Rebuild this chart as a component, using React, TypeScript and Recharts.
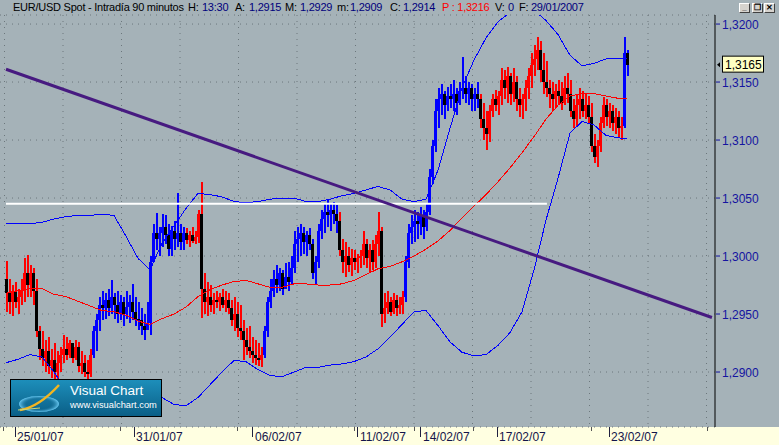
import { Bar, CartesianGrid, ComposedChart, Line, ReferenceLine, XAxis, YAxis } from "recharts"

// EUR/USD 90 min bars, values in pips above 1,2800 -> [high, low, close]
const week1 = [
  [196, 152, 168], [180, 150, 160], [175, 148, 170], [178, 155, 160], [172, 150, 165], [180, 158, 170], [198, 160, 185], [201, 165, 175], [192, 165, 185], [190, 158, 170],
  [180, 130, 135], [140, 110, 120], [135, 105, 112], [128, 100, 118], [130, 98, 105], [120, 95, 110], [125, 93, 100], [118, 94, 108], [122, 100, 115], [132, 108, 120],
  [130, 110, 115], [128, 112, 125], [124, 108, 112], [128, 110, 122], [126, 100, 105], [118, 98, 108], [115, 96, 100], [110, 94, 98], [120, 96, 115], [140, 112, 135],
]
const week2 = [
  [150, 118, 145], [165, 135, 158], [170, 145, 155], [168, 146, 162], [172, 148, 155], [179, 150, 165], [168, 146, 158], [170, 142, 150], [166, 145, 160], [165, 140, 150],
  [170, 146, 156], [166, 142, 160], [176, 145, 152], [165, 140, 146], [160, 136, 145], [155, 132, 140], [150, 128, 136], [160, 136, 142], [200, 132, 195], [228, 195, 220],
  [237, 205, 215], [225, 200, 220], [236, 208, 225], [235, 210, 218], [228, 200, 206], [226, 200, 222], [230, 205, 215], [254, 208, 220], [228, 205, 212], [225, 205, 220],
  [224, 210, 214], [222, 208, 218], [225, 211, 213], [222, 210, 216], [240, 211, 236],
]
const week3 = [
  [264, 147, 172], [185, 150, 160], [178, 148, 165], [175, 152, 158], [168, 150, 162], [170, 155, 160], [168, 153, 165], [172, 155, 158], [170, 152, 162], [168, 150, 155],
  [162, 140, 145], [165, 135, 150], [160, 130, 138], [158, 128, 135], [145, 110, 128], [138, 115, 122], [140, 112, 118], [130, 108, 115], [128, 106, 112], [125, 105, 110],
  [122, 104, 115], [140, 112, 135], [165, 130, 160], [180, 155, 170], [188, 165, 180], [192, 168, 175], [190, 170, 185], [188, 166, 172], [194, 172, 182], [195, 170, 178],
  [200, 175, 190], [222, 185, 210], [225, 195, 215], [228, 200, 220],
]
const week4 = [
  [225, 202, 212], [222, 200, 218], [224, 205, 210], [215, 180, 185], [200, 175, 195], [228, 190, 222], [240, 215, 232], [245, 220, 238], [248, 225, 235], [246, 222, 240],
  [247, 228, 236], [244, 220, 230], [238, 200, 205], [215, 185, 195], [212, 182, 200], [208, 186, 192], [206, 183, 198], [205, 188, 195], [202, 185, 198], [205, 190, 200],
  [222, 192, 210], [215, 190, 198], [210, 185, 205], [214, 188, 195], [218, 190, 210], [238, 200, 222], [225, 139, 150], [168, 142, 155], [170, 150, 160], [165, 148, 152],
  [168, 150, 162], [166, 148, 155], [165, 150, 158], [170, 150, 165],
]
const week5 = [
  [200, 160, 195], [228, 190, 220], [235, 210, 225], [240, 212, 230], [238, 215, 228], [242, 218, 235], [240, 215, 225], [245, 222, 238], [275, 235, 268], [300, 262, 295],
  [335, 290, 325], [345, 310, 335], [348, 322, 340], [342, 318, 330], [346, 325, 338], [348, 328, 335], [352, 325, 340], [345, 322, 332], [350, 330, 342], [372, 335, 345],
  [355, 332, 340], [350, 330, 345], [348, 325, 335], [345, 325, 340], [350, 328, 335], [340, 310, 318], [332, 300, 310], [325, 291, 305], [330, 298, 325], [340, 320, 335],
  [343, 325, 330], [342, 322, 338],
]
const week6 = [
  [362, 330, 352], [360, 335, 345], [363, 332, 355], [358, 330, 340], [362, 333, 350], [355, 325, 335], [345, 320, 330], [340, 318, 335], [352, 325, 345], [362, 335, 355],
  [375, 345, 365], [382, 355, 370], [389, 360, 378], [385, 350, 360], [375, 340, 350], [368, 337, 345], [352, 328, 340], [350, 325, 335], [348, 328, 342], [352, 330, 338],
  [350, 326, 332], [355, 330, 345], [358, 332, 340], [352, 320, 325], [335, 310, 318], [340, 312, 330], [345, 318, 335], [342, 320, 325], [340, 318, 330], [338, 315, 320],
  [332, 290, 295], [305, 280, 285], [300, 277, 295], [320, 290, 315], [337, 310, 330], [335, 312, 320], [332, 310, 325], [330, 308, 315], [328, 305, 320], [325, 302, 310],
  [320, 300, 312], [389, 310, 375], [378, 355, 365],
]
const firstOpen = 180

// bar index where the trend colouring switches (1 = up / blue, -1 = down / red)
const trendRuns = [
  { start: 0, dir: -1 }, { start: 29, dir: 1 }, { start: 60, dir: -1 }, { start: 86, dir: 1 },
  { start: 111, dir: -1 }, { start: 133, dir: 1 }, { start: 158, dir: -1 }, { start: 206, dir: 1 },
]

// indicators, one value every 4 bars (pips above 1,2800)
const upperBand = [
  228, 228, 228, 229, 232, 234, 235, 235, 236, 235, 217, 198, 188, 211, 226, 241, 254, 253, 251, 247,
  246, 247, 249, 250, 250, 247, 247, 249, 252, 254, 257, 260, 257, 249, 247, 249, 274, 310, 345, 369,
  388, 402, 410, 414, 412, 403, 391, 373, 364, 366, 370, 370, 370,
]
const lowerBand = [
  108, 111, 115, 113, 100, 85, 78, 74, 76, 78, 80, 83, 82, 78, 72, 71, 78, 89, 100, 110,
  109, 102, 97, 96, 100, 104, 104, 106, 107, 109, 113, 120, 130, 141, 152, 153, 140, 126, 117, 114,
  115, 123, 134, 152, 188, 231, 267, 306, 316, 313, 304, 302, 301,
]
const movingAvg = [
  168, 170, 172, 172, 167, 165, 161, 157, 153, 152, 149, 144, 141, 146, 150, 156, 165, 171, 175, 178,
  179, 176, 173, 173, 176, 176, 175, 175, 176, 179, 184, 189, 191, 195, 200, 206, 213, 222, 233, 243,
  253, 264, 276, 289, 303, 318, 330, 338, 340, 340, 338, 336, 336,
]

const dateTicks = [3, 42.67, 82.33, 117.33, 138.33, 163.67, 201]
const dateLabels = ["25/01/07", "31/01/07", "06/02/07", "11/02/07", "14/02/07", "17/02/07", "23/02/07"]
const minorTicks = [-0.67, 38.33, 77.33, 116.33, 136, 155.67, 195, 233.67]
const priceTicks = [1.29, 1.295, 1.3, 1.305, 1.31, 1.315, 1.32]

const trendLine = [{ i: 0, pips: 361 }, { i: 235.3, pips: 147 }]
const resistance = { from: 0, to: 180.3, pips: 245 }

const BASE = 1.28
const toPrice = (p: number) => BASE + p / 10000
const fmt = (v: number) => v.toFixed(4).replace(".", ",")

const flat = [week1, week2, week3, week4, week5, week6].flat()
const dirAt = (i: number) => trendRuns.reduce((d, r) => (i >= r.start ? r.dir : d), 1)
const bars = flat.map(([h, l, c], i) => ({
  i,
  high: toPrice(h),
  low: toPrice(l),
  close: toPrice(c),
  open: toPrice(i === 0 ? firstOpen : flat[i - 1][2]),
  dir: dirAt(i),
}))
const lastIndex = bars.length - 1
const lastClose = bars[lastIndex].close
const bandAt = (k: number) => Math.min(k * 4, lastIndex)
const upperData = upperBand.map((p, k) => ({ i: bandAt(k), v: toPrice(p) }))
const lowerData = lowerBand.map((p, k) => ({ i: bandAt(k), v: toPrice(p) }))
const maData = movingAvg.map((p, k) => ({ i: bandAt(k), v: toPrice(p) }))

const BG = "#a5b2b8"
const BLUE = "#0000ff"
const RED = "#ff0000"

function Candle(props: any) {
  const { x, y, width, height, payload } = props
  if (x == null || !payload) return null
  const top = Math.min(y, y + height)
  const bottom = Math.max(y, y + height)
  const cx = Math.round(x + width / 2) - 1
  const span = payload.high - payload.low
  const yAt = (v: number) => (span === 0 ? top : top + ((payload.high - v) / span) * (bottom - top))
  const col = payload.dir > 0 ? BLUE : RED
  const yo = yAt(payload.open)
  const yc = yAt(payload.close)
  const bTop = Math.min(yo, yc)
  const bH = Math.max(1, Math.abs(yc - yo))
  return (
    <g shapeRendering="crispEdges">
      <rect x={cx} y={top} width={2} height={Math.max(1, bottom - top)} fill={col} />
      <rect x={cx - 1} y={bTop} width={3} height={bH} fill={payload.close < payload.open ? "#000" : col} />
    </g>
  )
}

function PriceTick({ x, y, payload }: any) {
  return (
    <g>
      <line x1={x + 1} x2={x + 5} y1={y} y2={y} stroke="#1414a0" />
      <text x={x + 7} y={y + 4.5} fontSize={12} fill="#1414a0">{fmt(payload.value)}</text>
    </g>
  )
}

function DateTick({ x, y, payload }: any) {
  const k = dateTicks.indexOf(payload.value)
  if (k < 0) return <line x1={x} x2={x} y1={y} y2={y + 4} stroke="#555" shapeRendering="crispEdges" />
  return (
    <g>
      <line x1={x} x2={x} y1={y} y2={y + 10} stroke="#202040" shapeRendering="crispEdges" />
      <text x={x + 2} y={y + 14} fontSize={12} fill="#14144a">{dateLabels[k]}</text>
    </g>
  )
}

function LastPrice({ viewBox }: any) {
  if (!viewBox) return null
  const left = viewBox.x + viewBox.width
  const y = viewBox.y
  return (
    <g>
      <path d={`M${left + 2},${y} l3,-2.5 v5 z`} fill="#000" />
      <rect x={left + 7.5} y={y - 8.5} width={41} height={16} fill="#ffffc4" stroke="#000" />
      <text x={left + 10} y={y + 4.5} fontSize={12} fill="#000">{fmt(lastClose)}</text>
    </g>
  )
}

const vGrid = ({ offset }: any) => {
  const out: number[] = []
  for (let x = offset.left + 4.5; x < offset.left + offset.width; x += 58.5) out.push(x)
  return out
}

const lab = { color: "#000" }
const val = { color: "#00007c" }

export default function App() {
  return (
    <div style={{ position: "fixed", left: 0, top: 0, width: 779, height: 445, background: BG, fontFamily: "'Liberation Sans', Arial, sans-serif", overflow: "hidden" }}>
      <style>{".recharts-line-curve{shape-rendering:crispEdges}"}</style>
      <div style={{ position: "absolute", left: 0, top: 427, width: 779, height: 18, background: "#ffffe1" }} />
      <div style={{ position: "absolute", left: 0, top: 0 }}>
        <ComposedChart width={779} height={445} data={bars} margin={{ top: 15, right: 0, bottom: 0, left: 0 }}>
          <CartesianGrid stroke="#6c777c" strokeDasharray="1 5" verticalCoordinatesGenerator={vGrid} />
          <XAxis
            type="number"
            dataKey="i"
            domain={[-2, 236.33]}
            allowDataOverflow
            ticks={[...minorTicks, ...dateTicks]}
            interval={0}
            height={18}
            axisLine={false}
            tickLine={false}
            tickSize={0}
            tickMargin={0}
            tick={<DateTick />}
          />
          <YAxis
            orientation="right"
            width={64}
            domain={[1.28526, 1.32078]}
            allowDataOverflow
            ticks={priceTicks}
            interval={0}
            axisLine={{ stroke: "#000" }}
            tickLine={false}
            tickSize={0}
            tickMargin={0}
            tick={<PriceTick />}
          />
          <Bar dataKey={(d: any) => [d.low, d.high]} barSize={2} shape={<Candle />} isAnimationActive={false} />
          <Line data={upperData} dataKey="v" stroke={BLUE} strokeWidth={1} dot={false} activeDot={false} isAnimationActive={false} />
          <Line data={lowerData} dataKey="v" stroke={BLUE} strokeWidth={1} dot={false} activeDot={false} isAnimationActive={false} />
          <Line data={maData} dataKey="v" stroke={RED} strokeWidth={1} dot={false} activeDot={false} isAnimationActive={false} />
          <ReferenceLine
            segment={[{ x: resistance.from, y: toPrice(resistance.pips) }, { x: resistance.to, y: toPrice(resistance.pips) }]}
            stroke="#ffffff"
            strokeWidth={2}
          />
          <ReferenceLine
            segment={trendLine.map((p) => ({ x: p.i, y: toPrice(p.pips) }))}
            stroke="#471a80"
            strokeWidth={3}
          />
          <ReferenceLine y={lastClose} stroke="none" label={<LastPrice />} />
        </ComposedChart>
      </div>

      <div style={{ position: "absolute", left: 0, top: 1, width: 779, height: 13, fontSize: 11, lineHeight: "13px", letterSpacing: -0.25, whiteSpace: "nowrap" }}>
        <span style={{ position: "absolute", left: 13, ...lab }}>EUR/USD Spot - Intradía 90 minutos</span>
        <span style={{ position: "absolute", left: 188, ...lab }}>H:</span>
        <span style={{ position: "absolute", left: 202, ...val }}>13:30</span>
        <span style={{ position: "absolute", left: 235, ...lab }}>A:</span>
        <span style={{ position: "absolute", left: 249, ...val }}>1,2915</span>
        <span style={{ position: "absolute", left: 285, ...lab }}>M:</span>
        <span style={{ position: "absolute", left: 300, ...val }}>1,2929</span>
        <span style={{ position: "absolute", left: 337, ...lab }}>m:</span>
        <span style={{ position: "absolute", left: 350, ...val }}>1,2909</span>
        <span style={{ position: "absolute", left: 390, ...lab }}>C:</span>
        <span style={{ position: "absolute", left: 403, ...val }}>1,2914</span>
        <span style={{ position: "absolute", left: 442, color: "#ff0000" }}>P : 1,3216</span>
        <span style={{ position: "absolute", left: 495, ...lab }}>V:</span>
        <span style={{ position: "absolute", left: 508, ...val }}>0</span>
        <span style={{ position: "absolute", left: 519, ...lab }}>F:</span>
        <span style={{ position: "absolute", left: 531, ...val }}>29/01/2007</span>
      </div>

      {["_", "❐", "✕"].map((g, k) => (
        <div
          key={k}
          style={{
            position: "absolute", left: 739 + k * 12.5, top: 3, width: 11, height: 10, boxSizing: "border-box",
            background: "#d6d3ce", borderTop: "1px solid #fff", borderLeft: "1px solid #fff",
            borderRight: "1px solid #404040", borderBottom: "1px solid #404040",
            fontSize: 8, lineHeight: "8px", textAlign: "center", color: "#000", fontWeight: 700,
          }}
        >
          {g}
        </div>
      ))}

      <svg style={{ position: "absolute", left: 10, top: 379 }} width={153} height={39}>
        <defs>
          <linearGradient id="vcbg" x1="0" y1="0" x2="0" y2="1">
            <stop offset="0%" stopColor="#1d8fbb" />
            <stop offset="100%" stopColor="#0a5e86" />
          </linearGradient>
          <radialGradient id="vcring" cx="0.5" cy="0.5" r="0.5">
            <stop offset="55%" stopColor="#0a5e86" stopOpacity={0} />
            <stop offset="100%" stopColor="#68c8f2" />
          </radialGradient>
        </defs>
        <rect x={0.5} y={0.5} width={151} height={37} fill="url(#vcbg)" stroke="#000" />
        <ellipse cx={29} cy={25} rx={20} ry={8} fill="url(#vcring)" />
        <path d="M10,31 C24,29 38,18 49,6" stroke="#f3b520" strokeWidth={2.5} fill="none" />
        <path d="M8,31 L30,29" stroke="#c9d77a" strokeWidth={1} fill="none" />
        <text x={60} y={16} fontSize={13.5} fill="#ffffff" fontFamily="'Liberation Sans', Arial">Visual Chart</text>
        <text x={60} y={29} fontSize={9.3} fill="#ffffff" fontFamily="'Liberation Sans', Arial">www.visualchart.com</text>
      </svg>
    </div>
  )
}
